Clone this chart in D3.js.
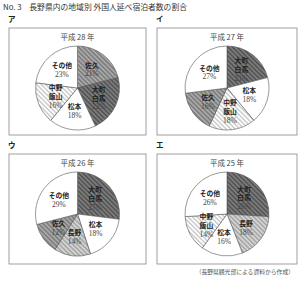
<!DOCTYPE html>
<html>
<head>
<meta charset="utf-8">
<script src="https://cdn.jsdelivr.net/npm/d3@7"></script>
<style>
	body { margin: 0; background: #fff; }
	text { font-family: "Noto Sans CJK JP", sans-serif; fill: #222; }
	.pct { font-family: "Liberation Serif", "DejaVu Serif", serif; }
</style>
</head>
<body>
<script>
// chart data, one list per panel (clockwise from 12 o'clock)
var panel_marks = ["ア", "イ", "ウ", "エ"];
var panel_years = ["平成 28 年", "平成 27 年", "平成 26 年", "平成 25 年"];
var regions_a = ["佐久", "大町白馬", "松本", "中野飯山", "その他"];
var values_a = [21, 22, 18, 16, 23];
var regions_b = ["大町白馬", "松本", "中野飯山", "佐久", "その他"];
var values_b = [21, 18, 18, 16, 27];
var regions_c = ["大町白馬", "松本", "長野", "佐久", "その他"];
var values_c = [27, 18, 14, 12, 29];
var regions_d = ["大町白馬", "長野", "松本", "中野飯山", "その他"];
var values_d = [26, 18, 16, 14, 26];
var label_lines = {
	"大町白馬": ["大町", "白馬"],
	"中野飯山": ["中野", "飯山"],
	"佐久": ["佐久"],
	"松本": ["松本"],
	"長野": ["長野"],
	"その他": ["その他"]
};

var w = 300, h = 282;
var svg = d3.select("body").append("svg").attr("width", w).attr("height", h);

// hatch patterns
var fills = {
	"大町白馬": ["#555555", "#7c7c7c"],
	"佐久": ["#7e7e7e", "#a9a9a9"],
	"長野": ["#a8a8a8", "#d4d4d4"],
	"中野飯山": ["#ffffff", "#cfcfcf"],
	"松本": ["#ffffff", "#ffffff"],
	"その他": ["#ffffff", "#ffffff"]
};
var defs = svg.append("defs");
Object.keys(fills).forEach(function(k, i) {
	var p = defs.append("pattern")
		.attr("id", "pat" + i)
		.attr("patternUnits", "userSpaceOnUse")
		.attr("width", 3.2).attr("height", 3.2)
		.attr("patternTransform", "rotate(45)");
	p.append("rect").attr("width", 3.2).attr("height", 3.2).attr("fill", fills[k][0]);
	p.append("rect").attr("width", 3.2).attr("height", 1.6).attr("fill", fills[k][1]);
	fills[k].id = "url(#pat" + i + ")";
});

svg.append("text").attr("x", 3).attr("y", 10)
	.style("font-size", "7.8px").style("fill", "#333")
	.text("No. 3　長野県内の地域別 外国人延べ宿泊者数の割合");

var panels = [
	{ x: 9, y: 28, w: 137, h: 107, regions: regions_a, values: values_a },
	{ x: 157, y: 28, w: 140, h: 107, regions: regions_b, values: values_b },
	{ x: 9, y: 154, w: 137, h: 110, regions: regions_c, values: values_c },
	{ x: 157, y: 154, w: 140, h: 110, regions: regions_d, values: values_d }
];

var r = 42;
var pie = d3.pie().sort(null).value(function(d) { return d.v; });
var arc = d3.arc().innerRadius(0).outerRadius(r);
var label_arc = d3.arc().innerRadius(r * 0.56).outerRadius(r * 0.56);
var line_gap = 8.8;

panels.forEach(function(p, i) {
	svg.append("text").attr("x", p.x - 1).attr("y", p.y - 6)
		.style("font-size", "7.5px").style("font-weight", "bold")
		.text(panel_marks[i]);
	svg.append("rect")
		.attr("x", p.x).attr("y", p.y).attr("width", p.w).attr("height", p.h)
		.attr("fill", "none").attr("stroke", "#888").attr("stroke-width", 0.8);

	var cx = p.x + p.w / 2, cy = p.y + 60;
	svg.append("text").attr("x", cx).attr("y", p.y + 12)
		.attr("text-anchor", "middle")
		.style("font-size", "7.5px").style("fill", "#444")
		.text(panel_years[i]);

	var data = p.regions.map(function(n, j) { return { n: n, v: p.values[j] }; });
	var g = svg.append("g").attr("transform", "translate(" + cx + "," + cy + ")");
	var slices = pie(data);
	g.selectAll("path").data(slices).enter().append("path")
		.attr("d", arc)
		.attr("fill", function(d) { return fills[d.data.n].id; })
		.attr("stroke", "#555").attr("stroke-width", 0.6);

	// one text per line so the labels do not share a box
	slices.forEach(function(d) {
		var c = label_arc.centroid(d);
		var lines = label_lines[d.data.n].concat([d.data.v + "%"]);
		var y0 = c[1] - (lines.length - 1) * line_gap / 2 + 2.5;
		lines.forEach(function(s, k) {
			var last = k == lines.length - 1;
			g.append("text").attr("text-anchor", "middle")
				.attr("class", last ? "pct" : null)
				.attr("x", c[0]).attr("y", y0 + k * line_gap)
				.style("font-size", last ? "7.5px" : "6.8px")
				.style("font-weight", last ? null : "bold")
				.style("fill", last ? "#444" : null)
				.text(s);
		});
	});
});

svg.append("text").attr("x", 294).attr("y", 274).attr("text-anchor", "end")
	.style("font-size", "5.8px").style("fill", "#555")
	.text("（長野県観光部による資料から作成）");
</script>
</body>
</html>
